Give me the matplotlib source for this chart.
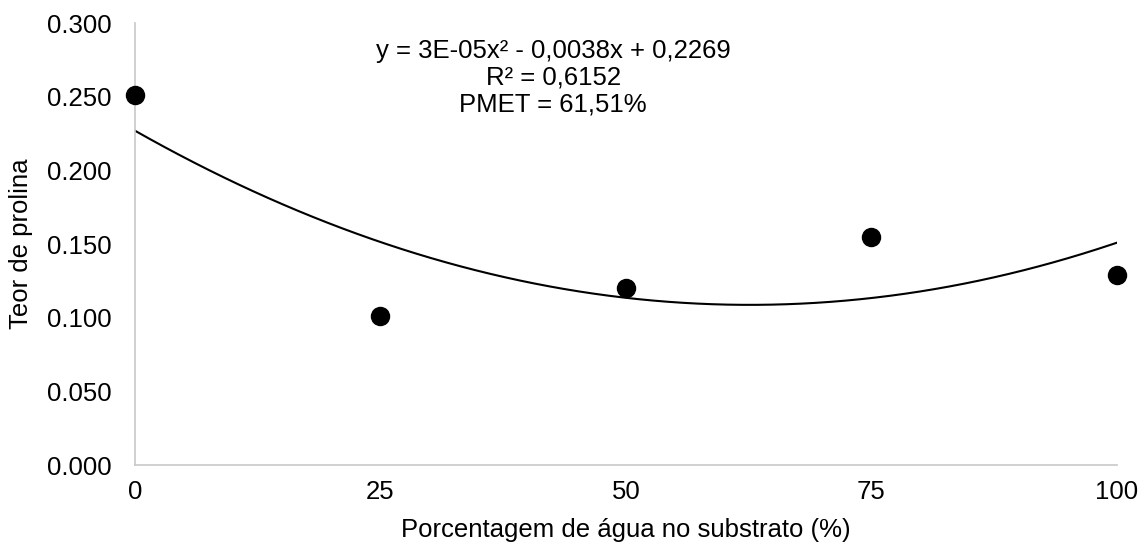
import numpy as np
import matplotlib.pyplot as plt

plt.rcParams["font.family"] = ["Liberation Sans", "DejaVu Sans"]

# data
agua = [0, 25, 50, 75, 100]
prolina = [0.251, 0.101, 0.120, 0.155, 0.129]
xticks = [0, 25, 50, 75, 100]
yticks = [0.0, 0.05, 0.10, 0.15, 0.20, 0.25, 0.30]
equation = "y = 3E-05x² - 0,0038x + 0,2269\nR² = 0,6152\nPMET = 61,51%"

fig = plt.figure(figsize=(11.4, 5.44), dpi=100)
ax = fig.add_axes([0.1184, 0.1452, 0.8614, 0.8125])

# quadratic trend line fitted to the points
coef = np.polyfit(agua, prolina, 2)
xs = np.linspace(0, 100, 200)
ax.plot(xs, np.polyval(coef, xs), color="black", linewidth=1.5, zorder=2)
ax.plot(agua, prolina, "o", color="black", markersize=13, zorder=3, clip_on=False)

ax.set_xlim(0, 100)
ax.set_ylim(0, 0.3)
ax.set_xticks(xticks)
ax.set_yticks(yticks)
ax.set_yticklabels([f"{v:.3f}" for v in yticks])
ax.tick_params(length=0, labelsize=18.5)
ax.tick_params(axis="y", pad=17)
ax.tick_params(axis="x", pad=11)
for s in ["top", "right"]:
    ax.spines[s].set_visible(False)
for s in ["left", "bottom"]:
    ax.spines[s].set_color("#c8c8c8")
    ax.spines[s].set_linewidth(1.2)

ax.set_xlabel("Porcentagem de água no substrato (%)", fontsize=18.5, labelpad=10)
ax.set_ylabel("Teor de prolina", fontsize=18.5, labelpad=10)

ax.text(42.6, 0.289, equation, ha="center", va="top", fontsize=18.5,
        linespacing=1.13)

fig.savefig("out.png", dpi=100)
